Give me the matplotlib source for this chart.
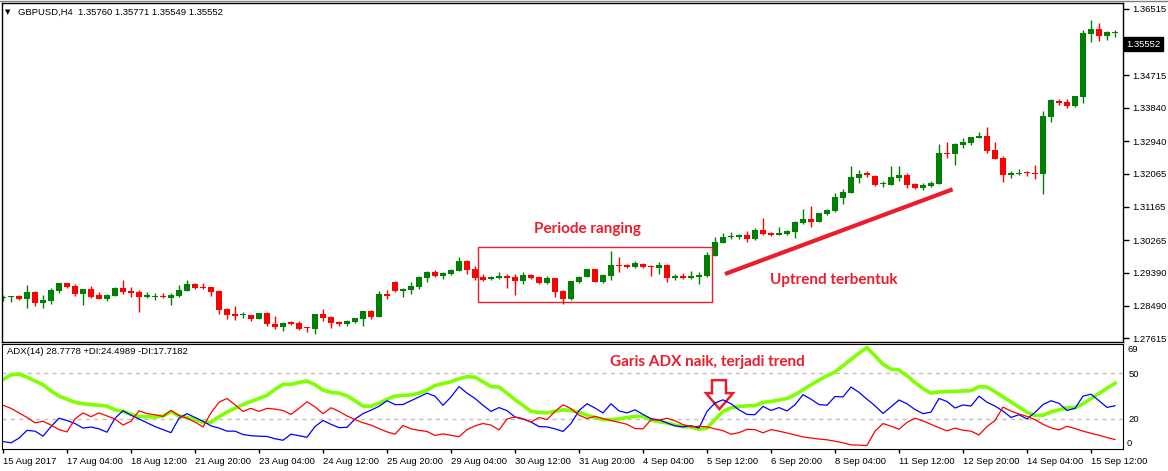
import numpy as np
import matplotlib
matplotlib.use("Agg")
import matplotlib.pyplot as plt
import matplotlib.transforms as mtransforms
from matplotlib.patches import Rectangle, Polygon
from matplotlib.lines import Line2D

plt.rcParams['font.family'] = ['Liberation Sans', 'DejaVu Sans']

# GBPUSD H4 candles, 15 Aug 2017 20:00 .. 18 Sep 2017
opens = [1.28696, 1.28723, 1.28758, 1.28685, 1.28866, 1.28577, 1.28631, 1.28901, 1.29109, 1.29028,
         1.28820, 1.28947, 1.28785, 1.28685, 1.28766, 1.28974, 1.28893, 1.28866, 1.28739, 1.28723,
         1.28758, 1.28712, 1.28766, 1.28901, 1.29082, 1.29001, 1.29001, 1.28893, 1.28407, 1.28272,
         1.28237, 1.28245, 1.28145, 1.28299, 1.28002, 1.27921, 1.28056, 1.28029, 1.27902, 1.27867,
         1.28272, 1.28191, 1.28056, 1.28002, 1.28056, 1.28137, 1.28353, 1.28191, 1.28820, 1.29136,
         1.28901, 1.28920, 1.29001, 1.29252, 1.29406, 1.29300, 1.29352, 1.29441, 1.29703, 1.29487,
         1.29271, 1.29217, 1.29244, 1.29300, 1.29271, 1.29163, 1.29325, 1.29271, 1.29109, 1.29244,
         1.28893, 1.28677, 1.29136, 1.29271, 1.29487, 1.29136, 1.29300, 1.29595, 1.29595, 1.29541,
         1.29622, 1.29568, 1.29514, 1.29595, 1.29244, 1.29300, 1.29244, 1.29279, 1.29300, 1.29838,
         1.30197, 1.30351, 1.30351, 1.30405, 1.30297, 1.30540, 1.30459, 1.30405, 1.30432, 1.30486,
         1.30729, 1.30837, 1.30756, 1.30972, 1.31053, 1.31404, 1.31539, 1.31944, 1.32079, 1.31998,
         1.31782, 1.31755, 1.31944, 1.32025, 1.31782, 1.31674, 1.31728, 1.31782, 1.32619, 1.32592,
         1.32835, 1.32889, 1.33024, 1.33078, 1.32700, 1.32484, 1.32033, 1.32060, 1.32106, 1.32087,
         1.32060, 1.33599, 1.34031, 1.34004, 1.33888, 1.34131, 1.35832, 1.35967, 1.35778, 1.35867]
highs = [1.28785, 1.28758, 1.28785, 1.29063, 1.28885, 1.28785, 1.28974, 1.29109, 1.29109, 1.29082,
         1.28947, 1.29028, 1.28866, 1.28812, 1.29001, 1.29190, 1.29001, 1.28920, 1.28866, 1.28839,
         1.28839, 1.28839, 1.29055, 1.29190, 1.29109, 1.29109, 1.29001, 1.28920, 1.28442, 1.28488,
         1.28326, 1.28245, 1.28299, 1.28334, 1.28218, 1.28056, 1.28083, 1.28083, 1.27929, 1.28272,
         1.28407, 1.28218, 1.28083, 1.28110, 1.28164, 1.28353, 1.28380, 1.28893, 1.28920, 1.29163,
         1.28982, 1.29136, 1.29300, 1.29433, 1.29460, 1.29406, 1.29487, 1.29811, 1.29730, 1.29568,
         1.29352, 1.29300, 1.29406, 1.29352, 1.29352, 1.29406, 1.29352, 1.29300, 1.29300, 1.29244,
         1.28920, 1.29163, 1.29300, 1.29487, 1.29487, 1.29352, 1.29973, 1.29811, 1.29622, 1.29703,
         1.29649, 1.29595, 1.29676, 1.29622, 1.29352, 1.29379, 1.29433, 1.29406, 1.29946, 1.30351,
         1.30459, 1.30486, 1.30432, 1.30513, 1.30594, 1.30864, 1.30486, 1.30621, 1.30540, 1.30783,
         1.31107, 1.31188, 1.30999, 1.31107, 1.31539, 1.31647, 1.32268, 1.32160, 1.32133, 1.32025,
         1.31863, 1.32268, 1.32268, 1.32079, 1.31809, 1.31809, 1.31863, 1.32862, 1.32916, 1.32889,
         1.33024, 1.33051, 1.33186, 1.33321, 1.32916, 1.32538, 1.32133, 1.32187, 1.32133, 1.32295,
         1.33753, 1.34077, 1.34077, 1.34077, 1.34158, 1.35940, 1.36210, 1.36129, 1.35913, 1.35940]
lows = [1.28631, 1.28604, 1.28642, 1.28442, 1.28496, 1.28442, 1.28550, 1.28847, 1.28982, 1.28766,
        1.28523, 1.28712, 1.28669, 1.28631, 1.28766, 1.28820, 1.28739, 1.28334, 1.28712, 1.28658,
        1.28712, 1.28523, 1.28739, 1.28901, 1.28955, 1.28947, 1.28766, 1.28280, 1.28145, 1.28118,
        1.28172, 1.28091, 1.28145, 1.27940, 1.27867, 1.27813, 1.27975, 1.27840, 1.27785, 1.27732,
        1.28091, 1.27894, 1.27948, 1.27948, 1.28029, 1.27948, 1.28137, 1.28183, 1.28685, 1.28874,
        1.28739, 1.28820, 1.28947, 1.29144, 1.29279, 1.29217, 1.29333, 1.29441, 1.29352, 1.29190,
        1.29163, 1.29190, 1.29217, 1.28974, 1.28785, 1.29082, 1.29217, 1.29082, 1.29082, 1.28739,
        1.28550, 1.28650, 1.29109, 1.29271, 1.29136, 1.29109, 1.29190, 1.29406, 1.29514, 1.29514,
        1.29514, 1.29300, 1.29352, 1.29136, 1.29190, 1.29217, 1.29217, 1.29082, 1.29271, 1.29838,
        1.30189, 1.30297, 1.30297, 1.30216, 1.30270, 1.30405, 1.30378, 1.30405, 1.30405, 1.30324,
        1.30702, 1.30621, 1.30756, 1.30945, 1.31026, 1.31242, 1.31539, 1.31809, 1.31971, 1.31728,
        1.31701, 1.31755, 1.31863, 1.31674, 1.31647, 1.31620, 1.31701, 1.31782, 1.32484, 1.32295,
        1.32754, 1.32835, 1.33024, 1.32619, 1.32457, 1.31836, 1.31944, 1.32025, 1.32006, 1.31917,
        1.31512, 1.33464, 1.33915, 1.33834, 1.33861, 1.33969, 1.35616, 1.35643, 1.35670, 1.35759]
closes = [1.28739, 1.28758, 1.28685, 1.28866, 1.28577, 1.28650, 1.28920, 1.29109, 1.29009, 1.28820,
          1.28947, 1.28739, 1.28685, 1.28785, 1.28974, 1.28866, 1.28847, 1.28739, 1.28793, 1.28758,
          1.28723, 1.28793, 1.28920, 1.29082, 1.28982, 1.28974, 1.28866, 1.28388, 1.28253, 1.28226,
          1.28253, 1.28137, 1.28299, 1.28010, 1.27921, 1.28029, 1.28002, 1.27867, 1.27886, 1.28272,
          1.28164, 1.28029, 1.28002, 1.28091, 1.28164, 1.28353, 1.28191, 1.28812, 1.28766, 1.28893,
          1.28947, 1.29028, 1.29271, 1.29406, 1.29300, 1.29379, 1.29460, 1.29703, 1.29460, 1.29244,
          1.29190, 1.29271, 1.29300, 1.29244, 1.29163, 1.29325, 1.29244, 1.29109, 1.29244, 1.28866,
          1.28677, 1.29163, 1.29271, 1.29487, 1.29136, 1.29325, 1.29595, 1.29568, 1.29541, 1.29649,
          1.29541, 1.29541, 1.29595, 1.29244, 1.29300, 1.29244, 1.29300, 1.29325, 1.29865, 1.30216,
          1.30351, 1.30378, 1.30405, 1.30297, 1.30540, 1.30432, 1.30405, 1.30459, 1.30513, 1.30756,
          1.30837, 1.30756, 1.30999, 1.31080, 1.31431, 1.31566, 1.31971, 1.32052, 1.32025, 1.31755,
          1.31817, 1.31971, 1.32025, 1.31755, 1.31674, 1.31755, 1.31809, 1.32619, 1.32592, 1.32862,
          1.32916, 1.33051, 1.33078, 1.32673, 1.32457, 1.32025, 1.32087, 1.32087, 1.32071, 1.32060,
          1.33618, 1.34050, 1.33977, 1.33888, 1.34158, 1.35859, 1.35967, 1.35778, 1.35886, 1.35886]

# ADX(14) indicator
adx = [46, 49, 49.6, 47.5, 45, 42.5, 38.5, 35, 33, 31,
       30, 29.5, 29, 28.5, 26, 25, 23, 21.7, 21.5, 21.3,
       22, 24.8, 22, 21, 19.7, 17.8, 17.8, 21.5, 24.5, 27,
       29.5, 31.5, 33.5, 35.5, 39.5, 42.8, 42.8, 44, 45, 42.5,
       39, 37.5, 37, 35.2, 32, 28.5, 28.3, 30.4, 33, 35,
       35.5, 35.8, 37, 39, 42, 43.3, 44.5, 46.5, 47.8, 47.5,
       44.5, 41.3, 41, 37, 32.6, 29, 25, 24.3, 24, 25,
       26, 25.5, 24.5, 22.5, 21, 19.6, 19.7, 20, 21, 21.7,
       21.7, 19.2, 18.2, 17.4, 16, 14.9, 14.8, 13.2, 14, 19.6,
       25, 27.3, 28.2, 28.6, 28.8, 30.9, 31.5, 32.5, 33.5, 35.9,
       39.2, 42.5, 45.5, 48.4, 50.9, 55, 59.2, 63.2, 67, 61.5,
       56, 52.8, 52.2, 48.4, 44, 40, 37, 37.8, 38, 38.2,
       38.4, 38.6, 41.3, 41, 38, 34.5, 31.3, 27.8, 24.3, 22.2,
       22.5, 24.6, 26, 27.4, 27.4, 30, 33.4, 36.8, 40.2, 43.5]
plus_di = [5.2, 4.3, 7.4, 12.5, 12, 8.7, 15, 20.5, 19, 17,
           14, 14.7, 13.5, 11.3, 20.5, 25.4, 22.5, 20, 17.5, 15,
           13, 11, 20.5, 23.5, 21, 18.5, 15.5, 14, 12, 12,
           9.8, 9, 8.7, 8.5, 7, 6, 10, 9, 8, 15,
           19, 16.5, 14.3, 14.5, 20, 23.5, 25.8, 28.3, 32, 29.5,
           29.5, 32, 34.5, 37, 35, 29, 34.5, 41.3, 37, 33.5,
           29, 25, 27.5, 25.5, 21.3, 20, 18, 15, 14.8, 13.5,
           11.8, 17, 25.5, 30, 27.2, 24, 30, 25.3, 24, 26,
           23, 20.2, 19.4, 17.4, 15.5, 14.8, 15.5, 14.1, 25, 30.5,
           32.6, 30, 26, 23, 22.8, 28.3, 25.6, 27.5, 25.3, 29.3,
           36, 33, 29.5, 29, 34.8, 34.5, 41, 37.5, 33, 28.7,
           23.6, 28, 32.5, 30, 26.2, 23.5, 24.5, 33.5, 31.5, 27.2,
           29.2, 28.5, 35, 31, 28.5, 25.2, 21, 22.8, 20, 24.3,
           29.5, 32, 30.3, 25.6, 27, 35, 36.3, 32, 27.6, 28.7]
minus_di = [29, 27, 24, 21, 17.5, 18.5, 16, 13, 11.5, 20,
            24, 21.5, 24, 22, 20, 16, 18.5, 25.4, 23.5, 22.8,
            21.7, 25.6, 22.3, 20.5, 18, 14.8, 24, 31, 33.5, 29.3,
            25, 27, 25, 27, 26.5, 25.6, 23, 27, 31.3, 28,
            23.5, 27.4, 25, 22, 19.6, 17.5, 16, 13.7, 11.5, 10,
            15.7, 13.5, 12.5, 11.8, 9.2, 10.2, 9.3, 8.3, 13, 15.5,
            17, 16, 12.8, 20, 21.3, 20.2, 18, 21, 19.6, 25,
            29.3, 26.8, 22.5, 20.3, 21.7, 20.2, 19, 17.8, 16.5, 13.7,
            13.5, 19.5, 19.2, 20.5, 18.8, 16.3, 14.9, 15.2, 14.8, 13.5,
            12.3, 10, 11, 13.2, 13, 10.9, 13, 12, 10.8, 9.5,
            8.2, 7.5, 6.8, 6.3, 5.4, 4.3, 3, 2.8, 2.6, 12,
            17, 15.3, 13.2, 17.8, 20.5, 18.7, 16.5, 14.2, 12.2, 14,
            12.6, 12, 9.5, 15, 19, 27.8, 25.2, 23.3, 21.7, 19.6,
            16.5, 14.2, 12.8, 15.2, 13.7, 12, 10.6, 9.3, 7.8, 6.5]

price_ticks = [1.36515, 1.34715, 1.33840, 1.32940, 1.32065, 1.31165,
               1.30265, 1.29390, 1.28490, 1.27615]
time_labels = ['15 Aug 2017', '17 Aug 04:00', '18 Aug 12:00', '21 Aug 20:00',
               '23 Aug 04:00', '24 Aug 12:00', '25 Aug 20:00', '29 Aug 04:00',
               '30 Aug 12:00', '31 Aug 20:00', '4 Sep 04:00', '5 Sep 12:00',
               '6 Sep 20:00', '8 Sep 04:00', '11 Sep 12:00', '12 Sep 20:00',
               '14 Sep 04:00', '15 Sep 12:00']
last_price = 1.35552

W, H = 1168, 471
UP, DOWN = '#008000', '#ff0000'
ANN = '#ec1c2c'
FS = 6.8


def px_box(x0, y0, x1, y1):
    return [x0 / W, 1 - y1 / H, (x1 - x0) / W, (y1 - y0) / H]


fig = plt.figure(figsize=(W / 100, H / 100), dpi=100)
ax = fig.add_axes(px_box(2, 3, 1123, 342))
ax2 = fig.add_axes(px_box(2, 344, 1123, 449))

o, h, l, c = map(np.array, (opens, highs, lows, closes))
idx = np.arange(len(o))
cols = np.where(c >= o, UP, DOWN)

# candles
ax.vlines(idx, l, h, colors=cols, lw=1)
ax.bar(idx, np.maximum(np.abs(c - o), 0.00027), bottom=np.minimum(o, c),
       width=0.64, color=cols, edgecolor='none')
ax.set_xlim(-0.125, 140)
ax.set_ylim(1.27516, 1.36669)
ax.set_xticks([])
ax.yaxis.tick_right()
ax.set_yticks(price_ticks)
ax.set_yticklabels(['%.5f' % p for p in price_ticks])
ax.tick_params(axis='y', length=4, width=1, pad=2.5, labelsize=FS)
for s in ax.spines.values():
    s.set_linewidth(1)

# current price box
ax.text(1.003, last_price, '%.5f' % last_price, color='white', fontsize=FS,
        transform=mtransforms.blended_transform_factory(ax.transAxes, ax.transData),
        va='center', ha='left',
        bbox=dict(facecolor='black', edgecolor='black', pad=1.8))

# annotations on price panel
ax.add_patch(Rectangle((59.4, 1.28596), 29.2, 1.30081 - 1.28596,
                       fill=False, edgecolor=ANN, lw=1))
ax.text(73, 1.30567, 'Periode ranging', color=ANN, fontsize=11,
        fontweight='bold', family='Lato', ha='center', va='center')
ax.plot([90.25, 118.7], [1.29352, 1.31639], color=ANN, lw=3,
        solid_capstyle='butt')
ax.text(95.9, 1.2919, 'Uptrend terbentuk', color=ANN, fontsize=11,
        fontweight='bold', family='Lato', ha='left', va='center')

# ADX panel
for lvl in (50, 20):
    ax2.axhline(lvl, color='#c0c0c0', lw=1, dashes=(3, 3))
ax2.plot(idx, adx, color='#7fff00', lw=2.6)
ax2.plot(idx, plus_di, color='#0000ff', lw=0.9)
ax2.plot(idx, minus_di, color='#ff0000', lw=0.9)
ax2.set_xlim(-0.125, 140)
ax2.set_ylim(0.26, 69.3)
ax2.yaxis.tick_right()
ax2.set_yticks([50, 20])
ax2.tick_params(axis='y', length=0, pad=4, labelsize=FS)
ax2.set_xticks(np.arange(0, 140, 8))
ax2.set_xticklabels(time_labels, ha='left')
ax2.tick_params(axis='x', length=3, width=1, pad=2.5, labelsize=FS)
ax2.add_patch(Polygon([(88.625, 45.5), (90.375, 45.5), (90.375, 37), (91.25, 37),
                       (89.56, 26.5), (87.875, 37), (88.625, 37)],
                      closed=True, fill=False, edgecolor=ANN, lw=1.8))
ax2.text(75.9, 57.2, 'Garis ADX naik, terjadi trend', color=ANN, fontsize=11,
         fontweight='bold', family='Lato', ha='left', va='center')

fig.text(1127 / W, 1 - 350 / H, '69', fontsize=FS, va='center')
fig.text(1127 / W, 1 - 443 / H, '0', fontsize=FS, va='center')

# headers
fig.text(5 / W, 1 - 12 / H, '\u25BC', fontsize=5, va='center', family='DejaVu Sans')
fig.text(18 / W, 1 - 12 / H, 'GBPUSD,H4  1.35760 1.35771 1.35549 1.35552',
         fontsize=FS, va='center')
fig.text(7 / W, 1 - 352 / H, 'ADX(14) 28.7778 +DI:24.4989 -DI:17.7182',
         fontsize=FS, va='center')
fig.add_artist(Line2D([0, 1], [1 - 0.5 / H, 1 - 0.5 / H], color='#808080', lw=1))

fig.savefig('out.png', dpi=100, facecolor='white')
